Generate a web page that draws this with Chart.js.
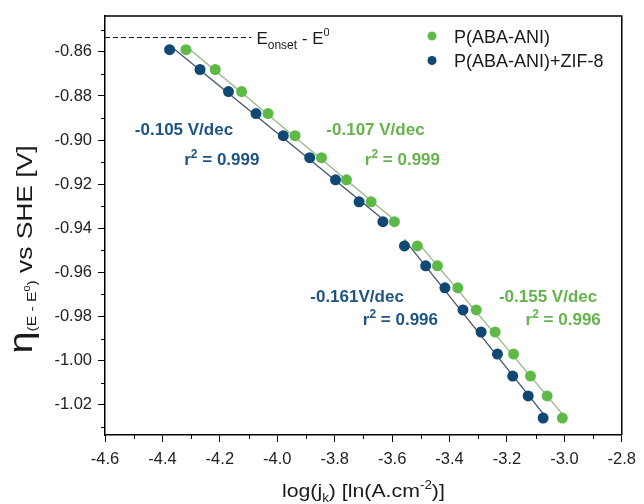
<!DOCTYPE html>
<html><head><meta charset="utf-8">
<script src="https://cdn.jsdelivr.net/npm/chart.js@4.4.0/dist/chart.umd.min.js"></script>
<style>html,body{margin:0;padding:0;background:#fff}canvas{display:block}</style>
</head><body>
<canvas id="c" width="644" height="504"></canvas>
<script>
const FONT = "'Liberation Sans', Arial, Helvetica, sans-serif";

// ---- data ----
const xTicks = [-4.6, -4.4, -4.2, -4.0, -3.8, -3.6, -3.4, -3.2, -3.0, -2.8];
const xMinorTicks = [-4.5, -4.3, -4.1, -3.9, -3.7, -3.5, -3.3, -3.1, -2.9];
const yTicks = [-0.86, -0.88, -0.90, -0.92, -0.94, -0.96, -0.98, -1.00, -1.02];
const yMinorTicks = [-0.85, -0.87, -0.89, -0.91, -0.93, -0.95, -0.97, -0.99, -1.01, -1.03];

const seriesNames = ['P(ABA-ANI)', 'P(ABA-ANI)+ZIF-8'];
const overpotential = [-0.859, -0.868, -0.878, -0.888, -0.898, -0.908, -0.918, -0.928, -0.937,
                       -0.948, -0.957, -0.967, -0.977, -0.987, -0.997, -1.007, -1.016, -1.026];
const logJkPABA = [-4.318, -4.216, -4.124, -4.032, -3.938, -3.846, -3.759, -3.673, -3.592,
                   -3.512, -3.442, -3.371, -3.307, -3.241, -3.177, -3.118, -3.060, -3.007];
const logJkZIF  = [-4.375, -4.269, -4.170, -4.074, -3.979, -3.887, -3.797, -3.715, -3.632,
                   -3.557, -3.483, -3.416, -3.353, -3.290, -3.233, -3.180, -3.126, -3.074];
const segmentBreak = 9;          // first index of the high-overpotential Tafel region
const onsetLevel = -0.8535;      // E_onset - E0
const onsetLineEndX = -4.09;

const tafelSlopes = ['-0.105 V/dec', '-0.107 V/dec', '-0.161V/dec', '-0.155 V/dec'];
const r2Values    = ['0.999', '0.999', '0.996', '0.996'];
const labelSeries = [1, 0, 1, 0];   // 0 = P(ABA-ANI), 1 = +ZIF-8

// ---- styles ----
const GREEN = '#5fb946', NAVY = '#0e4873';
const GREEN_TXT = '#66b24b', NAVY_TXT = '#1d5482';
const GREEN_LINE = '#93b783', NAVY_LINE = '#44536c';
// label anchor positions (data units): slope line left/center, r2 line left/center
const labelPos = [
  {sx: -4.496, sy: -0.8948, rx: -4.324, ry: -0.9084},
  {sx: -3.829, sy: -0.8948, rx: -3.695, ry: -0.9084},
  {sx: -3.885, sy: -0.9709, rx: -3.702, ry: -0.9813},
  {sx: -3.228, sy: -0.9709, rx: -3.135, ry: -0.9813}
];

function pts(xs, ys, a, b) { const o = []; for (let i = a; i < b; i++) o.push({x: xs[i], y: ys[i]}); return o; }
function fitLine(xs, ys, a, b) {
  let n = b - a, sx = 0, sy = 0, sxx = 0, sxy = 0;
  for (let i = a; i < b; i++) { sx += xs[i]; sy += ys[i]; sxx += xs[i]*xs[i]; sxy += xs[i]*ys[i]; }
  const k = (n*sxy - sx*sy) / (n*sxx - sx*sx), c = (sy - k*sx) / n;
  return [{x: xs[a], y: c + k*xs[a]}, {x: xs[b-1], y: c + k*xs[b-1]}];
}
const N = overpotential.length;

function lineDs(data, color, order) {
  return {data, showLine: true, borderColor: color, borderWidth: 1.3, pointRadius: 0, pointHoverRadius: 0, order};
}

const datasets = [
  {label: seriesNames[1], data: pts(logJkZIF, overpotential, 0, N), backgroundColor: NAVY, borderWidth: 0, pointRadius: 5.5, pointHoverRadius: 5.5, order: 0},
  {label: seriesNames[0], data: pts(logJkPABA, overpotential, 0, N), backgroundColor: GREEN, borderWidth: 0, pointRadius: 5.5, pointHoverRadius: 5.5, order: 1},
  lineDs(fitLine(logJkZIF, overpotential, 0, segmentBreak), NAVY_LINE, 2),
  lineDs(fitLine(logJkZIF, overpotential, segmentBreak, N), NAVY_LINE, 3),
  lineDs(fitLine(logJkPABA, overpotential, 0, segmentBreak), GREEN_LINE, 4),
  lineDs(fitLine(logJkPABA, overpotential, segmentBreak, N), GREEN_LINE, 5),
  Object.assign(lineDs([{x: xTicks[0], y: onsetLevel}, {x: onsetLineEndX, y: onsetLevel}], '#111', 6), {borderDash: [5, 3], borderWidth: 1})
];

function drawRich(ctx, x, y, parts, align, sx) {
  sx = sx || 1;
  let w = 0;
  parts.forEach(p => { ctx.font = (p.bold ? 'bold ' : '') + p.size + 'px ' + FONT; p.w = ctx.measureText(p.t).width; w += p.w; });
  ctx.save();
  ctx.translate(x, y); ctx.scale(sx, 1);
  let cx = align === 'center' ? -w/2 : (align === 'right' ? -w : 0);
  ctx.textBaseline = 'alphabetic'; ctx.textAlign = 'left';
  parts.forEach(p => { ctx.font = (p.bold ? 'bold ' : '') + p.size + 'px ' + FONT; ctx.fillText(p.t, cx, p.dy || 0); cx += p.w; });
  ctx.restore();
}

const decor = {
  id: 'decor',
  afterDraw(chart) {
    const ctx = chart.ctx, a = chart.chartArea, xs = chart.scales.x, ys = chart.scales.y;
    ctx.save();
    // frame top/right
    ctx.strokeStyle = '#000'; ctx.lineWidth = 1.5;
    ctx.beginPath();
    ctx.moveTo(a.left, a.top); ctx.lineTo(a.right, a.top); ctx.lineTo(a.right, a.bottom);
    ctx.stroke();
    // minor ticks
    ctx.lineWidth = 1;
    ctx.beginPath();
    xMinorTicks.forEach(v => { const px = Math.round(xs.getPixelForValue(v)) + 0.5; ctx.moveTo(px, a.bottom); ctx.lineTo(px, a.bottom + 4); });
    yMinorTicks.forEach(v => { const py = Math.round(ys.getPixelForValue(v)) + 0.5; ctx.moveTo(a.left, py); ctx.lineTo(a.left - 4, py); });
    ctx.stroke();

    // E_onset label
    ctx.fillStyle = '#1a1a1a';
    const ey = ys.getPixelForValue(onsetLevel) + 6;
    drawRich(ctx, xs.getPixelForValue(onsetLineEndX) + 5, ey, [
      {t: 'E', size: 17}, {t: 'onset', size: 12, dy: 5}, {t: ' - E', size: 17}, {t: '0', size: 11, dy: -8}
    ], 'left');

    // slope labels
    for (let i = 0; i < tafelSlopes.length; i++) {
      const p = labelPos[i];
      ctx.fillStyle = labelSeries[i] === 1 ? NAVY_TXT : GREEN_TXT;
      drawRich(ctx, xs.getPixelForValue(p.sx), ys.getPixelForValue(p.sy) + 6, [{t: tafelSlopes[i], size: 17, bold: true}], 'left');
      drawRich(ctx, xs.getPixelForValue(p.rx), ys.getPixelForValue(p.ry) + 6, [
        {t: 'r', size: 17, bold: true}, {t: '2', size: 12, bold: true, dy: -7}, {t: ' = ' + r2Values[i], size: 17, bold: true}
      ], 'left');
    }

    // legend
    const legendItems = [{name: seriesNames[0], color: GREEN}, {name: seriesNames[1], color: NAVY}];
    legendItems.forEach((it, i) => {
      const cy = 36 + i * 24.5;
      ctx.fillStyle = it.color;
      ctx.beginPath(); ctx.arc(432, cy, 4.5, 0, Math.PI*2); ctx.fill();
      ctx.fillStyle = '#1a1a1a';
      drawRich(ctx, 454, cy + 6.5, [{t: it.name, size: 18}], 'left');
    });

    // x title
    ctx.fillStyle = '#1a1a1a';
    drawRich(ctx, (a.left + a.right)/2, 497, [
      {t: 'log(j', size: 19}, {t: 'k', size: 12, dy: 5}, {t: ') [ln(A.cm', size: 19}, {t: '-2', size: 12, dy: -8}, {t: ')]', size: 19}
    ], 'center', 1.12);

    // y title
    ctx.save();
    ctx.translate(24, (a.top + a.bottom)/2 + 24);
    ctx.rotate(-Math.PI/2);
    drawRich(ctx, 0, 8, [
      {t: 'η', size: 33}, {t: '(E - E', size: 13, dy: 4}, {t: '0', size: 9, dy: -2}, {t: ')', size: 13, dy: 4},
      {t: ' vs SHE [V]', size: 22}
    ], 'center', 1.2);
    ctx.restore();
    ctx.restore();
  }
};

new Chart(document.getElementById('c'), {
  type: 'scatter',
  data: {datasets},
  options: {
    responsive: false, animation: false, devicePixelRatio: 1,
    layout: {padding: {left: 0, top: 15, right: 18, bottom: 0}},
    plugins: {legend: {display: false}, tooltip: {enabled: false}},
    scales: {
      x: {
        type: 'linear', min: -4.6, max: -2.8,
        afterBuildTicks: s => { s.ticks = xTicks.map(v => ({value: v})); },
        afterFit: s => { s.height = 69; },
        ticks: {callback: v => v.toFixed(1), color: '#222', font: {family: FONT, size: 16.5}, padding: 8, maxRotation: 0, autoSkip: false},
        grid: {drawOnChartArea: false, drawTicks: true, tickLength: 7, tickColor: '#000', tickWidth: 1},
        border: {display: true, color: '#000', width: 1.5},
        title: {display: false}
      },
      y: {
        type: 'linear', min: -1.0337, max: -0.8437,
        afterBuildTicks: s => { s.ticks = yTicks.map(v => ({value: v})); },
        afterFit: s => { s.width = 105; },
        ticks: {callback: v => v.toFixed(2), color: '#222', font: {family: FONT, size: 16.5}, padding: 6, autoSkip: false},
        grid: {drawOnChartArea: false, drawTicks: true, tickLength: 7, tickColor: '#000', tickWidth: 1},
        border: {display: true, color: '#000', width: 1.5},
        title: {display: false}
      }
    }
  },
  plugins: [decor]
});
</script>
</body></html>
